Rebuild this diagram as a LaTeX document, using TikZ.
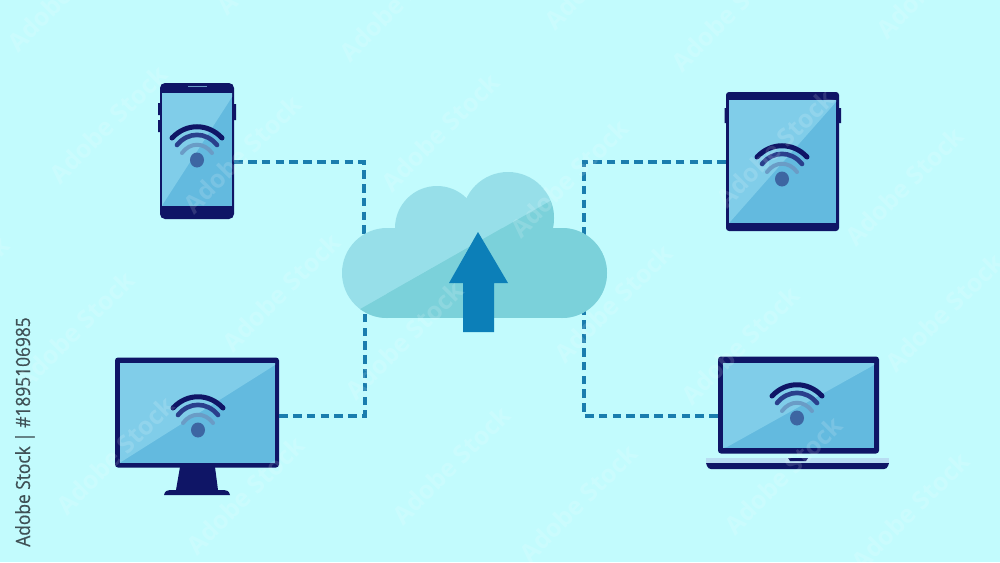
\documentclass[tikz,border=0pt]{standalone}
\usepackage{fontspec}
\setmainfont{Open Sans}
\newfontfamily\sidefont[FakeStretch=0.885,FakeBold=0.4]{Open Sans}
\usetikzlibrary{calc}
\definecolor{bgc}{HTML}{C2FBFD}
\definecolor{navy}{HTML}{0F1566}
\definecolor{scrL}{HTML}{80CDE9}
\definecolor{scrD}{HTML}{63BADF}
\definecolor{wifiB}{HTML}{2A3F8C}
\definecolor{wifiC}{HTML}{6A9CC6}
\definecolor{wifiD}{HTML}{3D66A2}
\definecolor{cloudL}{HTML}{97DFE9}
\definecolor{cloudD}{HTML}{7BD1DA}
\definecolor{linkc}{HTML}{1A7DAE}
\definecolor{arrowc}{HTML}{0C7FB8}
\definecolor{sidec}{HTML}{3F5055}
\definecolor{stripc}{HTML}{B8DDF2}
\tikzset{
  devicebody/.style={fill=navy,rounded corners=3pt,inner sep=0pt,draw=none},
  dashlink/.style={draw=linkc,line width=3.4pt,dash pattern=on 8.6pt off 5.2pt},
  wm/.style={text=white,text opacity=0.14,font=\bfseries\fontsize{25}{25}\selectfont,rotate=45,inner sep=0pt},
}
\newcommand{\scr}[8]{%
  \fill[scrD] (#1,#2) rectangle (#3,#4);
  \fill[scrL] (#1,#2) -- (#3,#2) -- (#5,#6) -- (#7,#8) -- (#1,#4) -- cycle;
}
\newcommand{\wifi}[2]{%
  \begin{scope}[shift={(#1,#2)},line cap=round]
    \draw[wifiC,line width=4pt] (-15,-7) .. controls (-7,-18) and (7,-18) .. (15,-7);
    \draw[wifiB,line width=4.6pt] (-20,-15) .. controls (-9,-28.5) and (9,-28.5) .. (20,-15);
    \draw[navy,line width=5pt] (-25,-22) .. controls (-11,-37) and (11,-37) .. (25,-22);
    \fill[wifiD] (0,0) ellipse [x radius=7,y radius=7.5];
  \end{scope}
}
\newcommand{\cloudparts}[1]{%
  \fill[#1] (387,273) circle [radius=45];
  \fill[#1] (562,273) circle [radius=45];
  \fill[#1] (437,228) circle [radius=42];
  \fill[#1] (508,218) circle [radius=46];
  \fill[#1] (387,228) rectangle (562,318);
}
\begin{document}
\begin{tikzpicture}[x=1pt,y=-1pt]
\useasboundingbox (0,0) rectangle (1000,562);
\fill[bgc] (0,0) rectangle (1000,562);

% side label
\node[rotate=90,anchor=base,text=sidec,font=\fontsize{19.6}{20}\sidefont,inner sep=0pt] (side) at (30,432) {Adobe Stock | \#1895106985};

% named anchors
\node[minimum width=265pt,minimum height=146pt,inner sep=0pt] (cloud) at (474.5,245) {};
\coordinate (j1) at (364,162);
\coordinate (j2) at (584,162);
\coordinate (j3) at (365,416);
\coordinate (j4) at (584,416);

% device bodies
\node[devicebody,rounded corners=5pt,minimum width=74pt,minimum height=136pt] (phone) at (197,151) {};
\node[devicebody,minimum width=113pt,minimum height=139pt] (tablet) at (782.5,161.5) {};
\node[devicebody,minimum width=164pt,minimum height=110pt] (monitor) at (197,412.5) {};
\node[devicebody,minimum width=161pt,minimum height=97pt] (laptop) at (798.5,405) {};

% connectors
\draw[dashlink] (phone.east |- j1) -- (j1) -- (j1 |- cloud.center);
\draw[dashlink] (tablet.west |- j2) -- (j2) -- (j2 |- cloud.center);
\draw[dashlink] (monitor.east |- j3) -- (j3) -- (j3 |- cloud.center);
\draw[dashlink] (laptop.west |- j4) -- (j4) -- (j4 |- cloud.center);

% cloud
\cloudparts{cloudL}
\begin{scope}
  \clip (340,320.5) -- (362,308) -- (552,200) -- (610,167) -- (610,322) -- (340,322) -- cycle;
  \cloudparts{cloudD}
\end{scope}
\fill[arrowc] (478,232) -- (508,283) -- (494,283) -- (494,332) -- (463,332) -- (463,283) -- (449,283) -- cycle;

% phone details
\scr{162}{93}{232}{206}{232}{97}{163}{204}
\fill[navy] (158,103) rectangle (160,115) (158,120) rectangle (160,132) (234,104) rectangle (236,120);
\fill[wifiC] (188,85.5) rectangle (207,87);
\wifi{197}{160}

% tablet details
\scr{729}{100}{836}{223}{836}{102}{730}{222}
\fill[navy] (839,108) rectangle (841,123) (724.5,108) rectangle (726,123);
\wifi{782}{179}

% monitor details
\scr{120}{363}{275}{463}{275}{365}{121}{462}
\fill[navy] (180,467) -- (215,467) -- (218,490) -- (176,490) -- cycle;
\fill[navy] (164,495) .. controls (165,491) and (167,490) .. (170,490) -- (224,490) .. controls (227,490) and (229,491) .. (230,495) -- cycle;
\wifi{198}{430}

% laptop details
\scr{723}{363}{874}{448}{874}{365}{727}{447}
\fill[stripc] (706,458) rectangle (889,463);
\fill[navy] (706,463) -- (889,463) -- (888,466) .. controls (887,468) and (886,469) .. (884,469) -- (711,469) .. controls (709,469) and (708,468) .. (707,466) -- cycle;
\fill[navy] (788,458) -- (808,458) -- (806,461) -- (790,461) -- cycle;
\wifi{797}{418}

% watermarks
\foreach \p in {(66,-8),(275,-45),(398,2),(108,124),(242,154),(440,132),(603,-30),(730,12),(935,-21),(569,178),(775,148),(904,186),(75,330),(281,292),(404,340),(115,455),(245,495),(451,465),(578,503),(613,303),(740,345),(944,312),(783,475),(910,511),(-50,295)}
  \node[wm] at \p {Adobe Stock};
\end{tikzpicture}
\end{document}
